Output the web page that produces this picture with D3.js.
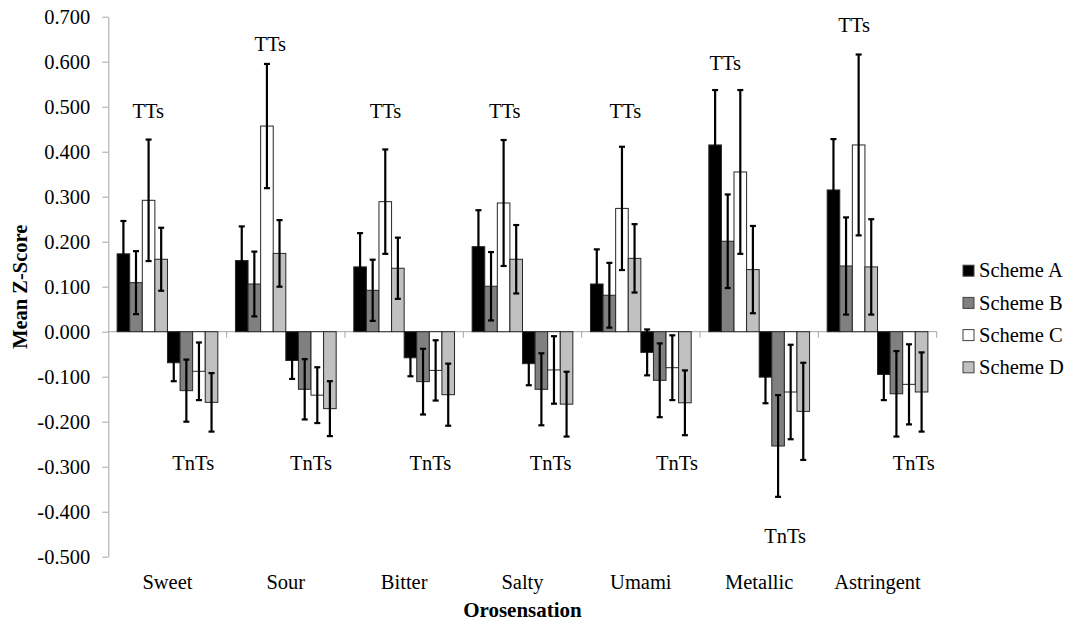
<!DOCTYPE html>
<html>
<head>
<meta charset="utf-8">
<script src="https://cdn.jsdelivr.net/npm/d3@7"></script>
<style>
  html, body { margin: 0; padding: 0; background: #fff; }
  svg text { font-family: "Liberation Serif", "Times New Roman", serif !important; }
</style>
</head>
<body>
<svg id="chart" width="1070" height="622"></svg>
<script>
// Mean Z-scores per orosensation, for tasters (TTs) and non-tasters (TnTs)
const categories = ["Sweet", "Sour", "Bitter", "Salty", "Umami", "Metallic", "Astringent"];
const schemes = ["Scheme A", "Scheme B", "Scheme C", "Scheme D"];
const yTicks = [-0.5, -0.4, -0.3, -0.2, -0.1, 0, 0.1, 0.2, 0.3, 0.4, 0.5, 0.6, 0.7];

// TTs means and error half-widths
const ttsA = [0.173, 0.158, 0.144, 0.189, 0.106, 0.415, 0.315];
const ttsB = [0.109, 0.106, 0.092, 0.101, 0.081, 0.201, 0.146];
const ttsC = [0.292, 0.457, 0.289, 0.286, 0.274, 0.355, 0.415];
const ttsD = [0.161, 0.174, 0.141, 0.161, 0.163, 0.138, 0.144];
const ttsErrA = [0.073, 0.076, 0.075, 0.081, 0.077, 0.122, 0.113];
const ttsErrB = [0.070, 0.072, 0.068, 0.076, 0.072, 0.104, 0.108];
const ttsErrC = [0.135, 0.138, 0.116, 0.140, 0.137, 0.182, 0.201];
const ttsErrD = [0.070, 0.074, 0.068, 0.076, 0.076, 0.097, 0.106];

// TnTs means and error half-widths
const tntsA = [-0.069, -0.064, -0.058, -0.071, -0.046, -0.101, -0.095];
const tntsB = [-0.131, -0.128, -0.111, -0.128, -0.108, -0.254, -0.138];
const tntsC = [-0.088, -0.141, -0.086, -0.085, -0.080, -0.134, -0.117];
const tntsD = [-0.157, -0.171, -0.140, -0.161, -0.158, -0.177, -0.134];
const tntsErrA = [0.041, 0.041, 0.041, 0.048, 0.051, 0.058, 0.057];
const tntsErrB = [0.069, 0.067, 0.073, 0.080, 0.082, 0.113, 0.095];
const tntsErrC = [0.064, 0.062, 0.067, 0.075, 0.072, 0.105, 0.089];
const tntsErrD = [0.065, 0.061, 0.069, 0.072, 0.072, 0.108, 0.088];

// ---- layout & styling ----
const fills = ["#000000", "#808080", "#ffffff", "#c0c0c0"];
const axisColor = "#a6a6a6";
const fontSize = 20.5;

// group label placement: level on the value axis and a horizontal nudge in px
const ttsLabelLevel = [0.491, 0.638, 0.491, 0.491, 0.489, 0.597, 0.682];
const ttsLabelNudge = [6, 9.6, 6.5, 7.4, 9.7, -8.8, 1.8];
const tntsLabelLevel = [-0.293, -0.293, -0.293, -0.293, -0.293, -0.454, -0.293];
const tntsLabelNudge = [0.6, 0, 1, 3, 11, 0.8, 11];

const svg = d3.select("#chart");
const plotLeft = 108.3, plotRight = 936.7, plotTop = 16.7, plotBottom = 556.7;

const x = d3.scaleBand().domain(categories).range([plotLeft, plotRight]).padding(0);
// 8 bar slots per category: 4 schemes for TTs, then 4 for TnTs
const slot = d3.scaleBand().domain(d3.range(8)).range([0, x.bandwidth()])
  .paddingInner(0).paddingOuter(0.7);
const y = d3.scaleLinear().domain([-0.5, 0.7]).range([plotBottom, plotTop]);

const ttsVals = [ttsA, ttsB, ttsC, ttsD];
const ttsErrs = [ttsErrA, ttsErrB, ttsErrC, ttsErrD];
const tntsVals = [tntsA, tntsB, tntsC, tntsD];
const tntsErrs = [tntsErrA, tntsErrB, tntsErrC, tntsErrD];

const bars = [];
categories.forEach((c, ci) => {
  schemes.forEach((s, si) => {
    bars.push({ cat: c, scheme: si, slot: si, value: ttsVals[si][ci], err: ttsErrs[si][ci] });
  });
  schemes.forEach((s, si) => {
    bars.push({ cat: c, scheme: si, slot: 4 + si, value: tntsVals[si][ci], err: tntsErrs[si][ci] });
  });
});

// y axis
const fmt = d3.formatLocale({ decimal: ".", thousands: ",", grouping: [3], currency: ["", ""], minus: "-" }).format(".3f");
const yAxis = svg.append("g")
  .attr("transform", `translate(${plotLeft},0)`)
  .call(d3.axisLeft(y).tickValues(yTicks).tickFormat(fmt).tickSize(6).tickSizeOuter(0).tickPadding(12));
yAxis.attr("font-size", fontSize);
yAxis.selectAll("path, line").attr("stroke", axisColor).attr("stroke-width", 1);
yAxis.selectAll("text").attr("fill", "#000");

// category axis at zero
const zeroY = y(0);
const xAxis = svg.append("g");
xAxis.append("line")
  .attr("x1", plotLeft).attr("x2", plotRight)
  .attr("y1", zeroY).attr("y2", zeroY)
  .attr("stroke", axisColor).attr("stroke-width", 1);
const boundaries = categories.slice(1).map(c => x(c)).concat([plotRight]);
xAxis.selectAll("line.tick").data(boundaries).join("line")
  .attr("class", "tick")
  .attr("x1", d => d).attr("x2", d => d)
  .attr("y1", zeroY).attr("y2", zeroY + 6)
  .attr("stroke", axisColor).attr("stroke-width", 1);

// bars
svg.append("g").selectAll("rect").data(bars).join("rect")
  .attr("x", d => x(d.cat) + slot(d.slot))
  .attr("width", slot.bandwidth())
  .attr("y", d => Math.min(y(d.value), zeroY))
  .attr("height", d => Math.abs(y(d.value) - zeroY))
  .attr("fill", d => fills[d.scheme])
  .attr("stroke", "#262626")
  .attr("stroke-width", 1);

// error bars
const capHalf = 3;
const eb = svg.append("g").attr("stroke", "#000").attr("stroke-width", 2.2);
bars.forEach(d => {
  const cx = x(d.cat) + slot(d.slot) + slot.bandwidth() / 2;
  const yHi = y(d.value + d.err), yLo = y(d.value - d.err);
  eb.append("line").attr("x1", cx).attr("x2", cx).attr("y1", yHi).attr("y2", yLo);
  eb.append("line").attr("x1", cx - capHalf).attr("x2", cx + capHalf).attr("y1", yHi).attr("y2", yHi);
  eb.append("line").attr("x1", cx - capHalf).attr("x2", cx + capHalf).attr("y1", yLo).attr("y2", yLo);
});

// group labels
const labels = svg.append("g").attr("font-size", fontSize).attr("text-anchor", "middle").attr("fill", "#000");
categories.forEach((c, ci) => {
  const ttsCenter = x(c) + slot(0) + 2 * slot.bandwidth();
  const tntsCenter = x(c) + slot(4) + 2 * slot.bandwidth();
  labels.append("text")
    .attr("x", ttsCenter + ttsLabelNudge[ci]).attr("y", y(ttsLabelLevel[ci]))
    .attr("dy", "0.33em").text("TTs");
  labels.append("text")
    .attr("x", tntsCenter + tntsLabelNudge[ci]).attr("y", y(tntsLabelLevel[ci]))
    .attr("dy", "0.33em").text("TnTs");
});

// category names
svg.append("g").attr("font-size", fontSize).attr("text-anchor", "middle")
  .selectAll("text").data(categories).join("text")
  .attr("x", d => x(d) + x.bandwidth() / 2)
  .attr("y", 589)
  .text(d => d);

// axis titles
svg.append("text")
  .attr("x", (plotLeft + plotRight) / 2).attr("y", 617)
  .attr("text-anchor", "middle").attr("font-weight", "bold").attr("font-size", 21)
  .text("Orosensation");
svg.append("text")
  .attr("transform", `translate(20,${(plotTop + plotBottom) / 2}) rotate(-90)`)
  .attr("text-anchor", "middle").attr("dy", "0.35em")
  .attr("font-weight", "bold").attr("font-size", fontSize)
  .text("Mean Z-Score");

// legend
const legend = svg.append("g").attr("transform", "translate(963,0)");
schemes.forEach((s, i) => {
  const cy = 270.7 + i * 32.2;
  legend.append("rect")
    .attr("x", 0).attr("y", cy - 5.5).attr("width", 11).attr("height", 11)
    .attr("fill", fills[i]).attr("stroke", "#404040").attr("stroke-width", 1);
  legend.append("text")
    .attr("x", 16).attr("y", cy).attr("dy", "0.33em")
    .attr("font-size", fontSize).text(s);
});
</script>
</body>
</html>
